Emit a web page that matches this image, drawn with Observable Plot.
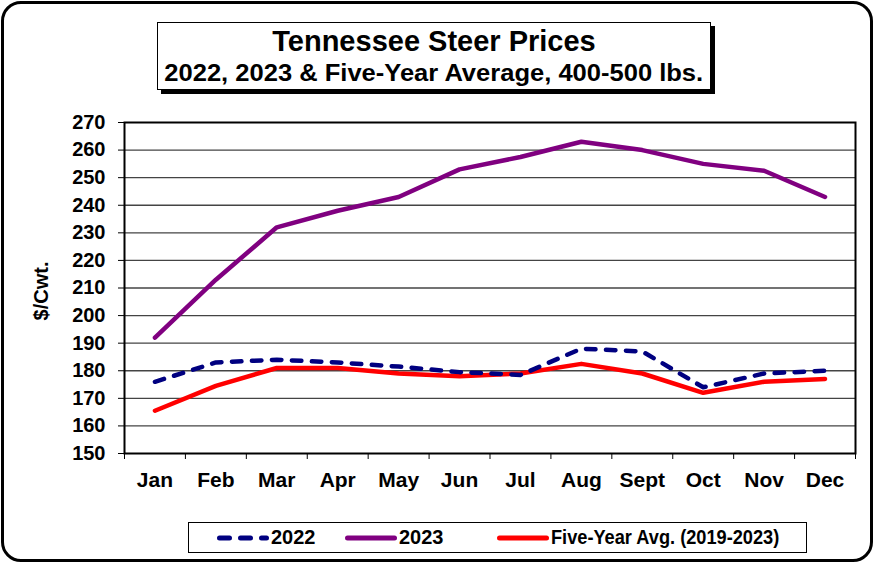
<!DOCTYPE html>
<html><head><meta charset="utf-8">
<script src="https://cdn.jsdelivr.net/npm/d3@7"></script>
<script src="https://cdn.jsdelivr.net/npm/@observablehq/plot@0.6"></script>
<style>
body{margin:0;background:#fff;font-family:"Liberation Sans",Arial,sans-serif;}
#wrap{position:relative;width:874px;height:563px;overflow:hidden;background:#fff}
#border{position:absolute;left:1px;top:1px;width:866px;height:555px;border:3px solid #000;border-radius:20px;pointer-events:none}
#title{position:absolute;left:157px;top:22px;width:552px;height:66px;border:1.5px solid #000;box-shadow:4px 4px 0 #000;background:#fff;font-weight:bold;color:#000}
#title .t1{position:absolute;left:0;right:0;top:1px;text-align:center;font-size:29px;line-height:34px;white-space:nowrap}
#title .t2{position:absolute;left:0;right:0;top:36px;text-align:center;font-size:23px;line-height:28px;white-space:nowrap}
#title .t2 span{display:inline-block;transform:scaleX(1.11);transform-origin:center}
#ylab{position:absolute;left:41px;top:291px;transform:translate(-50%,-50%) rotate(-90deg);font-weight:bold;font-size:20px;white-space:nowrap}
#legend{position:absolute;left:188px;top:522px;width:617px;height:29px;border:1.5px solid #000;background:#fff;font-weight:bold;font-size:20px}
#legend .item{display:flex;align-items:center;position:absolute;top:0;height:29px;white-space:nowrap}
#legend .item span{margin-left:2px;display:inline-block;transform-origin:left center}
#plot{position:absolute;left:0;top:0}
</style></head>
<body>
<div id="wrap">
  <div id="plot"></div>
  <div id="ylab">$/Cwt.</div>
  <div id="title"><div class="t1">Tennessee Steer Prices</div><div class="t2"><span>2022, 2023 &amp; Five-Year Average, 400-500 lbs.</span></div></div>
  <div id="legend"></div>
  <div id="border"></div>
</div>
<script>
const months = ["Jan","Feb","Mar","Apr","May","Jun","Jul","Aug","Sept","Oct","Nov","Dec"];
const y2022 = [176, 183, 184, 183, 181.5, 179.5, 178.5, 188, 187, 174, 179, 180];
const y2023 = [192, 213, 232, 238, 243, 253, 257.5, 263, 260, 255, 252.5, 243];
const avg5  = [165.5, 174.5, 181, 181, 179, 178, 179, 182.5, 179, 172, 176, 177];
const yTicks = [150,160,170,180,190,200,210,220,230,240,250,260,270];
const seriesNames = ["2022","2023","Five-Year Avg. (2019-2023)"];
const seriesColors = ["#000080","#800080","#FF0000"];

const rows = (vals) => vals.map((v, i) => ({x: i + 0.5, v}));

const chart = Plot.plot({
  width: 874, height: 563,
  marginLeft: 124, marginRight: 19, marginTop: 122, marginBottom: 110,
  x: {domain: [0, 12]},
  y: {domain: [150, 270]},
  style: {fontFamily: "Liberation Sans, Arial, sans-serif", fontWeight: "bold", fontSize: "20px", color: "#000", background: "transparent"},
  marks: [
    Plot.ruleY(yTicks.slice(1, -1), {stroke: "#444", strokeWidth: 1.3}),
    Plot.frame({stroke: "#000", strokeWidth: 2}),
    Plot.axisY({ticks: yTicks, tickSize: 6, tickPadding: 13, label: null, fontSize: 20, stroke: "#000"}),
    Plot.axisX({ticks: d3.range(0, 13), tickSize: 6, tickFormat: () => "", label: null, stroke: "#000"}),
    Plot.axisX({ticks: months.map((_, i) => i + 0.5), tickSize: 0, tickPadding: 19, tickFormat: d => months[Math.floor(d)], label: null, fontSize: 21}),
    Plot.line(rows(avg5), {x: "x", y: "v", stroke: seriesColors[2], strokeWidth: 4.5, strokeLinejoin: "round", strokeLinecap: "round"}),
    Plot.line(rows(y2022), {x: "x", y: "v", stroke: seriesColors[0], strokeWidth: 4.5, strokeDasharray: "9.5,10.5", strokeLinejoin: "round", strokeLinecap: "round"}),
    Plot.line(rows(y2023), {x: "x", y: "v", stroke: seriesColors[1], strokeWidth: 4.5, strokeLinejoin: "round", strokeLinecap: "round"})
  ]
});
document.getElementById("plot").appendChild(chart);

// legend
const lg = document.getElementById("legend");
const pos = [28, 156, 308];
const dashes = ["10,11", null, null];
const squeeze = [1, 1, 0.91];
seriesNames.forEach((name, i) => {
  const it = document.createElement("div");
  it.className = "item";
  it.style.left = pos[i] + "px";
  const ns = "http://www.w3.org/2000/svg";
  const svg = document.createElementNS(ns, "svg");
  svg.setAttribute("width", 52); svg.setAttribute("height", 10);
  const ln = document.createElementNS(ns, "line");
  ln.setAttribute("x1", 2.5); ln.setAttribute("x2", 49.5); ln.setAttribute("y1", 5); ln.setAttribute("y2", 5);
  ln.setAttribute("stroke", seriesColors[i]); ln.setAttribute("stroke-width", 5);
  ln.setAttribute("stroke-linecap", "round");
  if (dashes[i]) ln.setAttribute("stroke-dasharray", dashes[i]);
  svg.appendChild(ln);
  it.appendChild(svg);
  const sp = document.createElement("span");
  sp.textContent = name;
  sp.style.transform = "scaleX(" + squeeze[i] + ")";
  it.appendChild(sp);
  lg.appendChild(it);
});
</script>
</body></html>
